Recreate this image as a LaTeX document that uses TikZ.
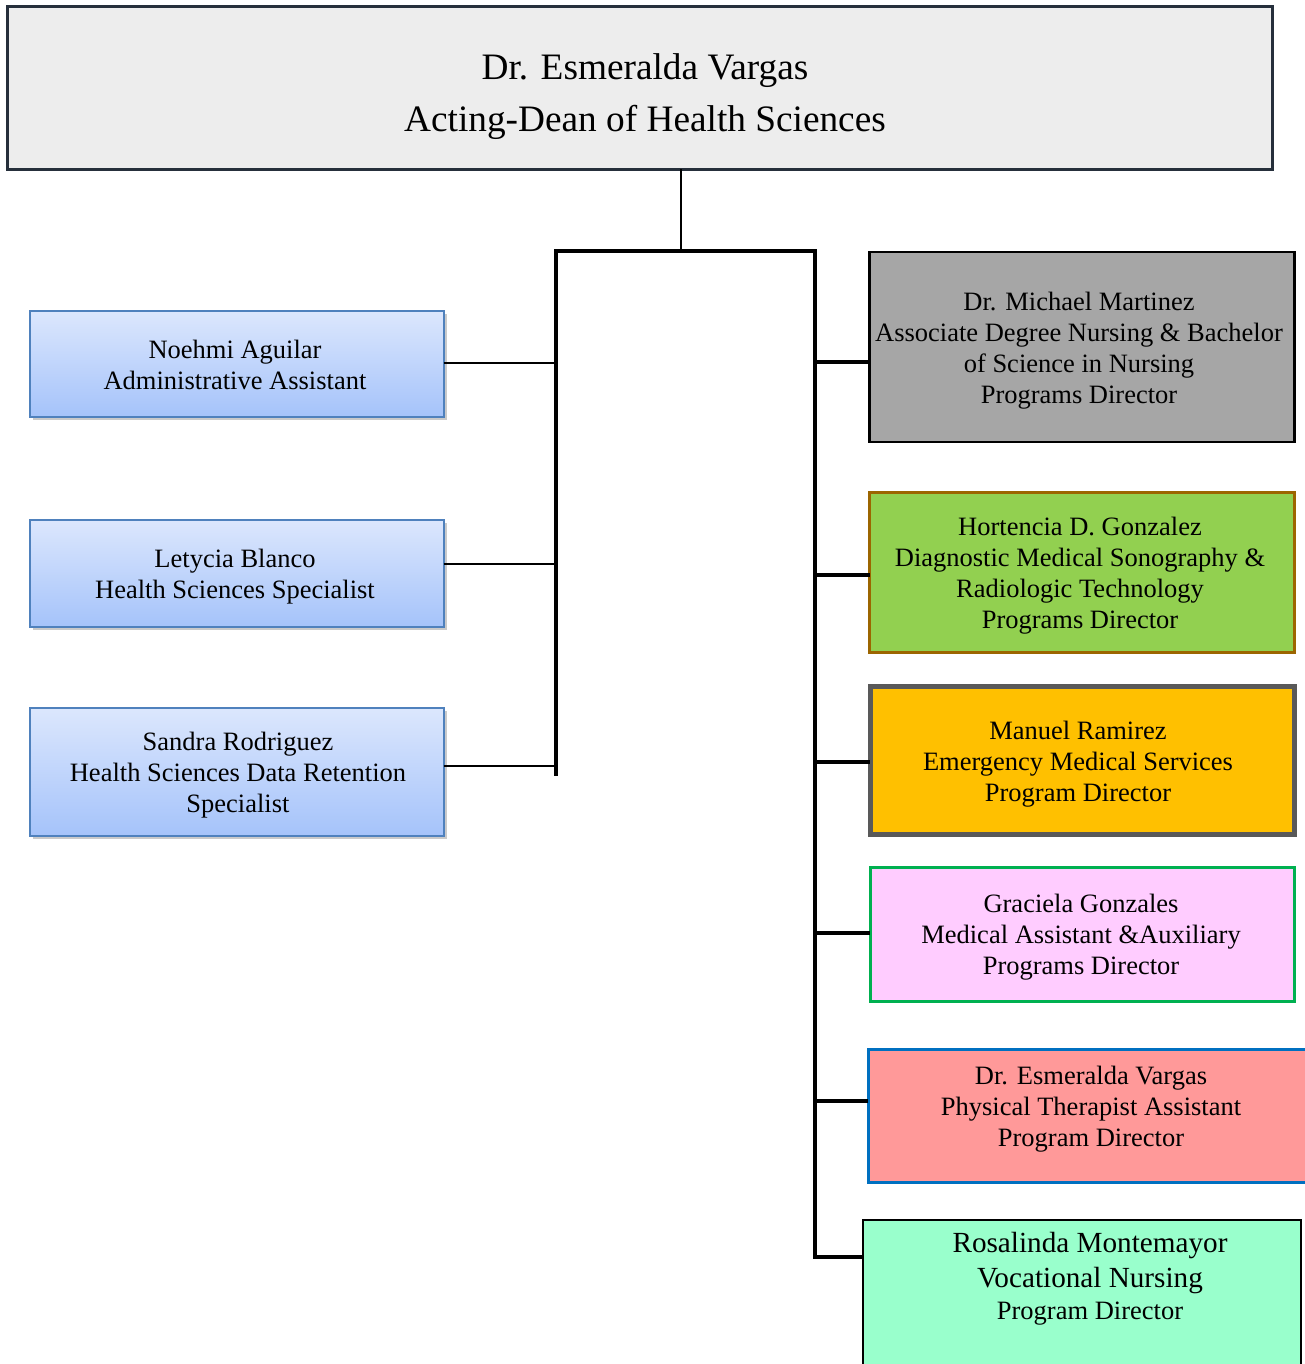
\documentclass[tikz,border=0pt]{standalone}
\usepackage{fontspec}
\setmainfont{Liberation Serif}
\usetikzlibrary{shadows}
\definecolor{topfill}{HTML}{EDEDED}
\definecolor{topdraw}{HTML}{262F3B}
\definecolor{bluetop}{HTML}{DCE7FD}
\definecolor{bluebot}{HTML}{A5C3FA}
\definecolor{bluedraw}{HTML}{4F81BD}
\definecolor{greyfill}{HTML}{A6A6A6}
\definecolor{greenfill}{HTML}{92D050}
\definecolor{browndraw}{HTML}{9C6500}
\definecolor{orangefill}{HTML}{FFC000}
\definecolor{darkgrey}{HTML}{595959}
\definecolor{pinkfill}{HTML}{FFCCFF}
\definecolor{greendraw}{HTML}{00B050}
\definecolor{redfill}{HTML}{FF9999}
\definecolor{bluedraw2}{HTML}{0070C0}
\definecolor{mintfill}{HTML}{99FFCC}
\begin{document}
\begin{tikzpicture}[x=1pt,y=-1pt,
  every node/.style={inner sep=0pt, outer sep=0pt, align=center},
  topbox/.style={draw=topdraw, fill=topfill, line width=2.5pt, minimum width=1265, minimum height=163},
  toptxt/.style={font=\fontsize{37.3}{52}\selectfont},
  leftbox/.style={draw=bluedraw, line width=2pt, top color=bluetop, bottom color=bluebot,
    minimum width=414, drop shadow={shadow xshift=3pt, shadow yshift=-3pt, fill=black!35, opacity=0.6}},
  rightbox/.style={line width=2.2pt},
  thin/.style={line width=1.6pt},
  thick/.style={line width=3.4pt},
  txt/.style={font=\fontsize{26.5}{31}\selectfont},
  bigtxt/.style={font=\fontsize{29.2}{35}\selectfont}
]
\useasboundingbox (0,0) rectangle (1305,1364);
\clip (0,0) rectangle (1305,1364);
% top
\node[topbox] (dean) at (640,88) {};
\node[toptxt] (deant) at (645,97) {Dr. Esmeralda Vargas\\Acting-Dean of Health Sciences};
% bus
\coordinate (j0) at (681,251);
\coordinate (jl) at (556,251);
\coordinate (jr) at (815,251);
\coordinate (lbot) at (556,774);
\coordinate (rbot) at (815,1257);
\draw[thin] (dean.south -| j0) -- (j0);
\draw[thick, line cap=rect] (lbot) -- (jl) -- (jr) -- (rbot);
% left boxes
\node[leftbox, minimum height=106] (a1) at (236.5,363.5) {};
\node[txt] (a1t) at (235,365) {Noehmi Aguilar\\Administrative Assistant};
\node[leftbox, minimum height=107] (a2) at (236.5,573) {};
\node[txt] (a2t) at (235,576.5) {Letycia Blanco\\Health Sciences Specialist};
\node[leftbox, minimum height=128] (a3) at (236.5,771.5) {};
\node[txt] (a3t) at (238,775.5) {Sandra Rodriguez\\Health Sciences Data Retention\\Specialist};
\coordinate (c1) at (556,363);
\coordinate (c2) at (556,564);
\coordinate (c3) at (556,766);
\draw[thin] (a1.east |- c1) -- (c1);
\draw[thin] (a2.east |- c2) -- (c2);
\draw[thin] (a3.east |- c3) -- (c3);
% right boxes
\node[rightbox, draw=black, fill=greyfill, minimum width=425, minimum height=190] (b1) at (1082,347) {};
\node[txt] (b1t) at (1079,350.5)
  {Dr. Michael Martinez\\Associate Degree Nursing \& Bachelor\\of Science in Nursing\\Programs Director};
\node[rightbox, draw=browndraw, line width=3pt, fill=greenfill, minimum width=425, minimum height=160] (b2) at (1082,572) {};
\node[txt] (b2t) at (1080,575.5)
  {Hortencia D. Gonzalez\\Diagnostic Medical Sonography \&\\Radiologic Technology\\Programs Director};
\node[rightbox, draw=darkgrey, line width=5pt, fill=orangefill, minimum width=424, minimum height=148] (b3) at (1082,760.5) {};
\node[txt] (b3t) at (1078,764.5)
  {Manuel Ramirez\\Emergency Medical Services\\Program Director};
\node[rightbox, draw=greendraw, line width=3pt, fill=pinkfill, minimum width=424, minimum height=134] (b4) at (1082,934) {};
\node[txt] (b4t) at (1081,937.5)
  {Graciela Gonzales\\Medical Assistant \&Auxiliary\\Programs Director};
\node[rightbox, draw=bluedraw2, line width=3pt, fill=redfill, minimum width=440, minimum height=133] (b5) at (1088,1115.5) {};
\node[txt] (b5t) at (1091,1109) {Dr. Esmeralda Vargas\\Physical Therapist Assistant\\Program Director};
\node[rightbox, draw=black, fill=mintfill, minimum width=438, minimum height=180] (b6) at (1082,1310) {};
\node[bigtxt] (b6t) at (1090,1263.5) {Rosalinda Montemayor\\Vocational Nursing};
\node[txt] (b6u) at (1090,1314) {Program Director};
\foreach \b/\y in {b1/362,b2/575,b3/762,b4/933,b5/1101,b6/1257}{
  \coordinate (k\b) at (815,\y);
  \draw[thick] (k\b) -- (\b.west |- k\b);
}
\end{tikzpicture}
\end{document}
